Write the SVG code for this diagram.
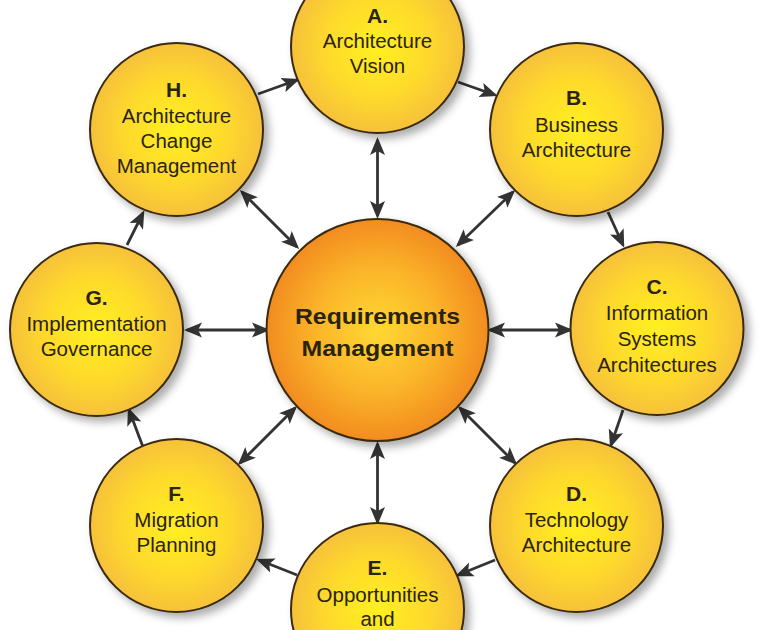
<svg xmlns="http://www.w3.org/2000/svg" width="772" height="630" viewBox="0 0 772 630">
<defs>
<radialGradient id="gy" cx="50%" cy="50%" r="50%">
<stop offset="0%" stop-color="#fff021"/>
<stop offset="60%" stop-color="#fed92c"/>
<stop offset="100%" stop-color="#f6c13b"/>
</radialGradient>
<radialGradient id="go" cx="50%" cy="50%" r="50%">
<stop offset="0%" stop-color="#ffd832"/>
<stop offset="55%" stop-color="#fbb52a"/>
<stop offset="100%" stop-color="#f28c1f"/>
</radialGradient>
<filter id="sh" x="-20%" y="-20%" width="150%" height="150%">
<feDropShadow dx="5" dy="5" stdDeviation="4" flood-color="#000" flood-opacity="0.33"/>
</filter>
<marker id="ah" markerUnits="userSpaceOnUse" markerWidth="19" markerHeight="16" refX="15" refY="7.5" orient="auto-start-reverse" viewBox="0 0 19 15">
<path d="M0,0 L18,7.5 L0,15 L4,7.5 z" fill="#333333"/>
</marker>
</defs>
<style>
.n{fill:url(#gy);stroke:#3a2c10;stroke-width:2;filter:url(#sh)}
.c{fill:url(#go);stroke:#3a2c10;stroke-width:2;filter:url(#sh)}
.t{font-family:"Liberation Sans",Arial,sans-serif;font-size:20.5px;fill:#2a2310;text-anchor:middle}
.b{font-family:"Liberation Sans",Arial,sans-serif;font-size:21px;font-weight:bold;fill:#2a2310;text-anchor:middle}
.ct{font-family:"Liberation Sans",Arial,sans-serif;font-size:22px;font-weight:bold;fill:#2a2310;text-anchor:middle}
.l{stroke:#333333;stroke-width:2.8;fill:none}
.s{marker-end:url(#ah)}
.d{marker-start:url(#ah);marker-end:url(#ah)}
</style>
<rect width="772" height="630" fill="#ffffff"/>
<g id="connectors">
<line class="l s" x1="258" y1="94" x2="297" y2="80"/>
<line class="l s" x1="458" y1="82" x2="495" y2="95"/>
<line class="l s" x1="608" y1="212" x2="623" y2="245"/>
<line class="l s" x1="623" y1="410" x2="611" y2="445"/>
<line class="l s" x1="495" y1="560" x2="458" y2="575"/>
<line class="l s" x1="297" y1="575" x2="259" y2="560"/>
<line class="l s" x1="143" y1="447" x2="129" y2="410"/>
<line class="l s" x1="127" y1="245" x2="143" y2="213"/>
<line class="l d" x1="377.5" y1="140" x2="377.5" y2="216"/>
<line class="l d" x1="513" y1="192" x2="458" y2="245"/>
<line class="l d" x1="490" y1="330" x2="570" y2="330"/>
<line class="l d" x1="460" y1="408" x2="515" y2="463"/>
<line class="l d" x1="377.5" y1="444" x2="377.5" y2="522"/>
<line class="l d" x1="295" y1="408" x2="240" y2="463"/>
<line class="l d" x1="267" y1="330" x2="187" y2="330"/>
<line class="l d" x1="242" y1="192" x2="297" y2="247"/>
</g>
<g id="node-center">
<circle class="c" cx="377.5" cy="330" r="111"/>
<text class="ct" x="377.5" y="324" textLength="165" lengthAdjust="spacingAndGlyphs">Requirements</text>
<text class="ct" x="377.5" y="356" textLength="152" lengthAdjust="spacingAndGlyphs">Management</text>
</g>
<g id="node-A">
<circle class="n" cx="377.5" cy="46.5" r="86.5"/>
<text class="b" x="377.5" y="23">A.</text>
<text class="t" x="377.5" y="48">Architecture</text>
<text class="t" x="377.5" y="73">Vision</text>
</g>
<g id="node-B">
<circle class="n" cx="576.5" cy="129.5" r="86.5"/>
<text class="b" x="576.5" y="105">B.</text>
<text class="t" x="576.5" y="132">Business</text>
<text class="t" x="576.5" y="157">Architecture</text>
</g>
<g id="node-C">
<circle class="n" cx="657" cy="328.5" r="86.5"/>
<text class="b" x="657" y="294">C.</text>
<text class="t" x="657" y="320">Information</text>
<text class="t" x="657" y="346">Systems</text>
<text class="t" x="657" y="372">Architectures</text>
</g>
<g id="node-D">
<circle class="n" cx="576.5" cy="525.5" r="86.5"/>
<text class="b" x="576.5" y="501">D.</text>
<text class="t" x="576.5" y="527">Technology</text>
<text class="t" x="576.5" y="552">Architecture</text>
</g>
<g id="node-E">
<circle class="n" cx="377.5" cy="609.5" r="86.5"/>
<text class="b" x="377.5" y="575">E.</text>
<text class="t" x="377.5" y="602">Opportunities</text>
<text class="t" x="377.5" y="626">and</text>
</g>
<g id="node-F">
<circle class="n" cx="176.5" cy="525.5" r="86.5"/>
<text class="b" x="176.5" y="501">F.</text>
<text class="t" x="176.5" y="527">Migration</text>
<text class="t" x="176.5" y="552">Planning</text>
</g>
<g id="node-G">
<circle class="n" cx="96.5" cy="329.5" r="86.5"/>
<text class="b" x="96.5" y="305">G.</text>
<text class="t" x="96.5" y="331">Implementation</text>
<text class="t" x="96.5" y="356">Governance</text>
</g>
<g id="node-H">
<circle class="n" cx="176.5" cy="129.5" r="86.5"/>
<text class="b" x="176.5" y="97">H.</text>
<text class="t" x="176.5" y="123">Architecture</text>
<text class="t" x="176.5" y="148">Change</text>
<text class="t" x="176.5" y="173">Management</text>
</g>
</svg>
